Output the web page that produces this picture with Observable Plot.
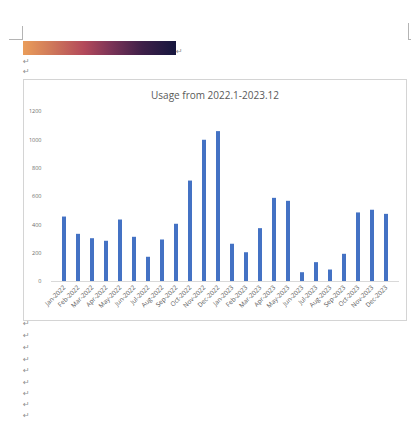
<!DOCTYPE html>
<html>
<head>
<meta charset="utf-8">
<script src="https://cdn.jsdelivr.net/npm/d3@7"></script>
<script src="https://cdn.jsdelivr.net/npm/@observablehq/plot@0.6"></script>
<style>
  html, body { margin: 0; padding: 0; background: #fff; }
  body { width: 411px; height: 422px; position: relative; overflow: hidden; font-family: "Open Sans", sans-serif; }
  .ln { position: absolute; background: #b4b4b4; }
  .ret { position: absolute; font-family: "DejaVu Sans", sans-serif; font-size: 8px; line-height: 8px; color: #8f8f8f; }
  #grad { position: absolute; left: 23px; top: 41px; width: 153px; height: 14px;
    background: linear-gradient(to right, #ea9d5a 0%, #d07a5a 18%, #b3495b 40%, #7a3357 58%, #3e1f48 78%, #15163e 100%); }
  #frame { position: absolute; left: 23px; top: 79px; width: 382px; height: 240px; border: 1px solid #d4d4d4; background: #fff; }
  #title { height: 22px; box-sizing: border-box; padding-top: 9px; line-height: 12px; font-size: 10px; color: #595959; text-align: center; font-family: "Open Sans", sans-serif; }
  #chart svg { display: block; }
</style>
</head>
<body>
<div class="ln" style="left:22px;top:26px;width:1px;height:14px"></div>
<div class="ln" style="left:9px;top:39px;width:14px;height:1px"></div>
<div class="ln" style="left:408px;top:23px;width:1px;height:17px"></div>
<div class="ln" style="left:408px;top:39px;width:4px;height:1px"></div>
<div id="grad"></div>
<div class="ret" style="left:176px;top:48px">↵</div>
<div class="ret" style="left:23px;top:58px">↵</div>
<div class="ret" style="left:23px;top:68px">↵</div>
<div id="frame">
  <div id="title">Usage from 2022.1-2023.12</div>
  <div id="chart"></div>
</div>
<div class="ret" style="left:23px;top:320px">↵</div>
<div class="ret" style="left:23px;top:332px">↵</div>
<div class="ret" style="left:23px;top:344px">↵</div>
<div class="ret" style="left:23px;top:356px">↵</div>
<div class="ret" style="left:23px;top:367px">↵</div>
<div class="ret" style="left:23px;top:379px">↵</div>
<div class="ret" style="left:23px;top:390px">↵</div>
<div class="ret" style="left:23px;top:401px">↵</div>
<div class="ret" style="left:23px;top:412px">↵</div>
<script>
const months = ["Jan-2022","Feb-2022","Mar-2022","Apr-2022","May-2022","Jun-2022","Jul-2022","Aug-2022","Sep-2022","Oct-2022","Nov-2022","Dec-2022",
                "Jan-2023","Feb-2023","Mar-2023","Apr-2023","May-2023","Jun-2023","Jul-2023","Aug-2023","Sep-2023","Oct-2023","Nov-2023","Dec-2023"];
const usage = [455, 333, 302, 284, 434, 312, 171, 293, 404, 709, 997, 1058,
               263, 203, 373, 587, 566, 62, 133, 81, 192, 484, 503, 474];
const yTicks = [0, 200, 400, 600, 800, 1000, 1200];

const data = months.map((m, i) => ({month: m, value: usage[i]}));

const chart = Plot.plot({
  width: 382,
  height: 218,
  marginLeft: 27,
  marginRight: 7,
  marginTop: 9,
  marginBottom: 39,
  style: {fontFamily: "Open Sans, sans-serif", fontSize: "5.5px", color: "#595959", background: "transparent"},
  x: {domain: months, paddingInner: 0.68, paddingOuter: 0.34},
  y: {domain: [0, 1200]},
  marks: [
    Plot.axisY({ticks: yTicks, tickFormat: d3.format("d"), label: null, tickSize: 0, tickPadding: 10, fontSize: 5.5, fill: "#6a6a6a"}),
    Plot.axisX({label: null, tickSize: 0, tickRotate: -45, tickPadding: 5, fontSize: 6.4, fill: "#595959"}),
    Plot.barY(data, {x: "month", y: "value", fill: "#4472c4"}),
    Plot.ruleY([0], {stroke: "#d9d9d9", strokeWidth: 1})
  ]
});
document.getElementById("chart").appendChild(chart);
</script>
</body>
</html>
